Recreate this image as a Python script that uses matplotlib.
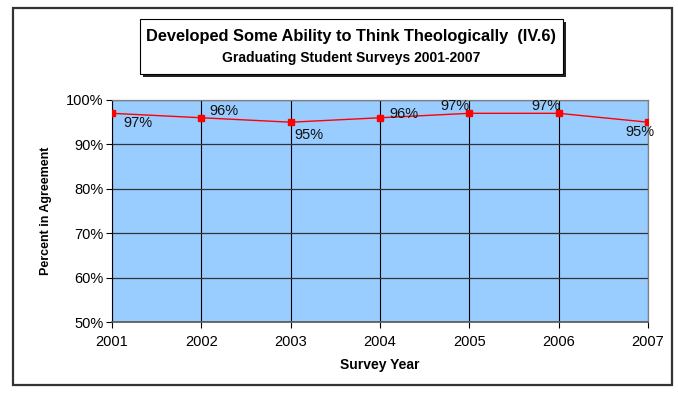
import matplotlib
matplotlib.use("Agg")
import matplotlib.pyplot as plt
from matplotlib.patches import Rectangle
from matplotlib.ticker import FuncFormatter

years = [2001, 2002, 2003, 2004, 2005, 2006, 2007]
values = [97, 96, 95, 96, 97, 97, 95]
labels = ["97%", "96%", "95%", "96%", "97%", "97%", "95%"]
# label offsets in points (dx, dy) and alignment
label_offsets = [(8, -7), (6, 5), (3, -9), (7, 3), (0, 5), (1, 5), (-6, -7)]
label_ha = ["left", "left", "left", "left", "right", "right", "center"]

plt.rcParams['font.family'] = ['Liberation Sans', 'DejaVu Sans']

fig = plt.figure(figsize=(6.78, 3.94), dpi=100)
ax = fig.add_axes([112/678, 1-322/394, (648-112)/678, (322-100)/394])

ax.set_facecolor('#99ccff')
ax.plot(years, values, color='red', lw=1.0, marker='s', ms=4.5, mfc='red', mec='red', zorder=3)
for x, y, t, (dx, dy), ha in zip(years, values, labels, label_offsets, label_ha):
    ax.annotate(t, (x, y), xytext=(dx, dy), textcoords='offset points',
                ha=ha, va='center', fontsize=10.5, color='#111111', zorder=4)

ax.set_xlim(2001, 2007)
ax.set_ylim(50, 100)
ax.set_xticks(years)
ax.set_yticks([50, 60, 70, 80, 90, 100])
ax.yaxis.set_major_formatter(FuncFormatter(lambda v, p: f"{v:.0f}%"))
ax.tick_params(axis='both', direction='out', length=4, width=0.8, labelsize=10.5, colors='black', pad=2)
ax.tick_params(axis='x', pad=5)
ax.grid(True, axis='y', color='#333333', lw=0.9)
ax.grid(True, axis='x', color='black', lw=0.8)
ax.set_axisbelow(True)
for s in ['top', 'right']:
    ax.spines[s].set_color('#808080')
    ax.spines[s].set_linewidth(0.9)
ax.spines['left'].set_color('black')
ax.spines['bottom'].set_color('#555555')
ax.spines['bottom'].set_linewidth(1.2)

ax.set_xlabel("Survey Year", fontsize=10, fontweight='bold', labelpad=7)
ax.set_ylabel("Percent in Agreement", fontsize=9, fontweight='bold', labelpad=10)

# outer frame
fig.patches.append(Rectangle((13/678, 1-385/394), (672-13)/678, (385-8)/394,
                             transform=fig.transFigure, fill=False, ec='#333333', lw=1.6))
# title box shadow and box
fig.patches.append(Rectangle((143/678, 1-77/394), (563-140)/678, (74-19)/394,
                             transform=fig.transFigure, fc='#222222', ec='none', zorder=1))
fig.patches.append(Rectangle((140/678, 1-74/394), (563-140)/678, (74-19)/394,
                             transform=fig.transFigure, fc='white', ec='black', lw=0.8, zorder=2))
fig.text(351/678, 1-37/394, "Developed Some Ability to Think Theologically  (IV.6)",
         ha='center', va='center', fontsize=11.8, fontweight='bold', zorder=3)
fig.text(351/678, 1-58/394, "Graduating Student Surveys 2001-2007",
         ha='center', va='center', fontsize=10, fontweight='bold', zorder=3)

fig.savefig("out.png", dpi=100, facecolor='white')
